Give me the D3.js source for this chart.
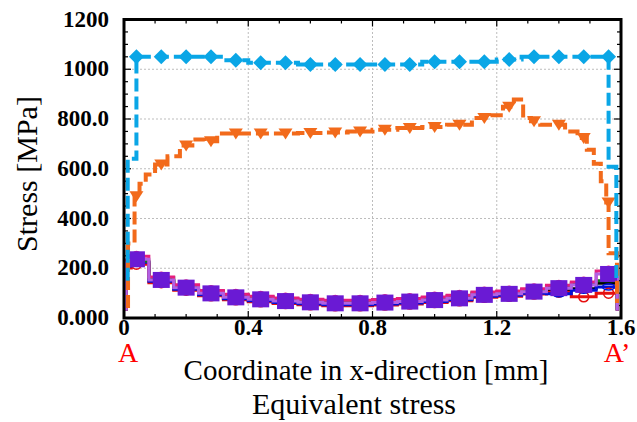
<!DOCTYPE html>
<html>
<head>
<meta charset="utf-8">
<script src="https://cdn.jsdelivr.net/npm/d3@7"></script>
<style>
  body { margin: 0; background: #fff; }
</style>
</head>
<body>
<div id="plot"></div>
<script>
// x positions of the markers (mm)
var xMarks = [0.04, 0.12, 0.20, 0.28, 0.36, 0.44, 0.52, 0.60, 0.68, 0.76,
              0.84, 0.92, 1.00, 1.08, 1.16, 1.24, 1.32, 1.40, 1.48, 1.56];

// upper two series (values at markers)
var blueVals   = [1050, 1050, 1050, 1050, 1036, 1026, 1026, 1019, 1019, 1019,
                  1019, 1019, 1030, 1030, 1030, 1039, 1050, 1050, 1050, 1050];
var orangeVals = [489, 617, 693, 711, 742, 742, 742, 744, 746, 750,
                  757, 764, 768, 777, 804, 849, 791, 777, 724, 464];

// stepped line paths of the upper series [x, stress]
var blueLine = [[0.012, 150], [0.012, 640], [0.04, 640], [0.04, 1050],
  [0.12, 1050], [0.20, 1050], [0.28, 1050], [0.36, 1036], [0.44, 1026], [0.52, 1026],
  [0.60, 1019], [0.68, 1019], [0.76, 1019], [0.84, 1019], [0.92, 1019], [1.00, 1030],
  [1.08, 1030], [1.16, 1030], [1.24, 1039], [1.32, 1050], [1.40, 1050], [1.48, 1050],
  [1.56, 1050], [1.56, 608], [1.585, 608], [1.585, 150]];
var orangeLine = [[0.013, 40], [0.013, 300], [0.034, 300], [0.034, 489], [0.04, 489],
  [0.06, 540], [0.08, 577], [0.12, 617], [0.16, 650], [0.20, 693], [0.24, 718],
  [0.28, 711], [0.32, 742], [0.36, 742], [0.44, 742], [0.52, 742], [0.60, 744],
  [0.68, 746], [0.76, 750], [0.84, 757], [0.92, 764], [1.00, 768], [1.08, 777],
  [1.16, 804], [1.20, 815], [1.24, 849], [1.27, 878], [1.30, 804], [1.32, 791],
  [1.36, 777], [1.40, 777], [1.44, 750], [1.48, 724], [1.50, 676], [1.525, 620],
  [1.545, 550], [1.56, 464], [1.56, 260], [1.587, 260], [1.587, 60]];

// lower group of series (values at markers)
var purpleVals = [236, 153, 122, 99, 83, 75, 68, 63, 59, 59, 62, 66, 72, 79, 93, 97, 106, 120, 133, 177];
var pinkVals   = [248, 165, 134, 111, 95, 87, 80, 75, 71, 71, 74, 78, 84, 91, 105, 109, 118, 132, 145, 189];
var greenVals  = [228, 162, 130, 108, 92, 84, 77, 72, 68, 68, 71, 75, 81, 88, 101, 105, 114, 128, 140, 150];
var blackVals  = [222, 150, 117, 95, 79, 71, 64, 59, 55, 55, 58, 62, 68, 75, 89, 92, 101, 110, 118, 140];
var navyVals   = [224, 148, 116, 93, 77, 69, 62, 57, 53, 53, 56, 60, 66, 73, 87, 91, 100, 97, 112, 125];
var redVals    = [216, 142, 112, 89, 73, 65, 58, 53, 49, 49, 52, 56, 62, 69, 83, 87, 96, 104, 85, 100];
var lowEdgeX = [0.007, 1.588];
var lowEdgeBase = 30;

var yTicks = [0, 200, 400, 600, 800, 1000, 1200];
var yTickLabels = ["0.000", "200.0", "400.0", "600.0", "800.0", "1000", "1200"];
var xTicks = [0, 0.4, 0.8, 1.2, 1.6];
var xTickLabels = ["0", "0.4", "0.8", "1.2", "1.6"];

var W = 637, H = 422;
var margin = {left: 124, right: 16, top: 19.5, bottom: 104};

var svg = d3.select("#plot").append("svg").attr("width", W).attr("height", H)
  .attr("font-family", "Liberation Serif");

var x = d3.scaleLinear().domain([0, 1.6]).range([margin.left, W - margin.right]);
var y = d3.scaleLinear().domain([0, 1200]).range([H - margin.bottom, margin.top]);

// grid
var grid = svg.append("g").attr("stroke", "#bdbdbd").attr("stroke-width", 1).attr("stroke-dasharray", "2,2");
xTicks.slice(1, -1).forEach(function(t) {
  grid.append("line").attr("x1", x(t)).attr("x2", x(t)).attr("y1", y(0)).attr("y2", y(1200));
});
yTicks.slice(1, -1).forEach(function(t) {
  grid.append("line").attr("x1", x(0)).attr("x2", x(1.6)).attr("y1", y(t)).attr("y2", y(t));
});

// ticks (inside)
var ticks = svg.append("g").attr("stroke", "#000").attr("stroke-width", 1.2);
d3.range(0, 1201, 50).forEach(function(v) {
  var len = v % 200 === 0 ? 7 : 4;
  ticks.append("line").attr("x1", x(0)).attr("x2", x(0) + len).attr("y1", y(v)).attr("y2", y(v));
  ticks.append("line").attr("x1", x(1.6)).attr("x2", x(1.6) - len).attr("y1", y(v)).attr("y2", y(v));
});
d3.range(0, 17).forEach(function(i) {
  var v = i / 10, len = i % 4 === 0 ? 7 : 4;
  ticks.append("line").attr("x1", x(v)).attr("x2", x(v)).attr("y1", y(0)).attr("y2", y(0) - len);
  ticks.append("line").attr("x1", x(v)).attr("x2", x(v)).attr("y1", y(1200)).attr("y2", y(1200) + len);
});

var line = d3.line().x(function(d) { return x(d[0]); }).y(function(d) { return y(d[1]); }).curve(d3.curveStep);

function lowLine(vals) {
  var pts = [[lowEdgeX[0], lowEdgeBase], [lowEdgeX[0], vals[0] - 15]];
  vals.forEach(function(v, i) { pts.push([xMarks[i], v]); });
  pts.push([lowEdgeX[1], vals[vals.length - 1]]);
  pts.push([lowEdgeX[1], lowEdgeBase]);
  return pts;
}

// lower group lines
var lowSeries = [
  {vals: blackVals, color: "#000000"},
  {vals: redVals, color: "#e60f0f"},
  {vals: navyVals, color: "#0010d8"},
  {vals: greenVals, color: "#137a22"},
  {vals: pinkVals, color: "#e61e7c"},
  {vals: purpleVals, color: "#b260e4"}
];
lowSeries.forEach(function(s) {
  svg.append("path").attr("d", line(lowLine(s.vals)))
    .attr("fill", "none").attr("stroke", s.color).attr("stroke-width", 3);
});

// hollow circle markers (red, blue)
svg.append("g").selectAll("circle").data(redVals).enter().append("circle")
  .attr("cx", function(d, i) { return x(xMarks[i]); }).attr("cy", function(d) { return y(d); })
  .attr("r", 5).attr("fill", "none").attr("stroke", "#e60f0f").attr("stroke-width", 1.5);
svg.append("g").selectAll("ellipse").data(navyVals).enter().append("ellipse")
  .attr("cx", function(d, i) { return x(xMarks[i]); }).attr("cy", function(d) { return y(d); })
  .attr("rx", 6).attr("ry", 3).attr("fill", "none").attr("stroke", "#0010d8").attr("stroke-width", 1.5);
// pink filled circles
svg.append("g").selectAll("circle").data(pinkVals).enter().append("circle")
  .attr("cx", function(d, i) { return x(xMarks[i]); }).attr("cy", function(d) { return y(d); })
  .attr("r", 5.5).attr("fill", "#e61e7c");
// purple squares
svg.append("g").selectAll("rect").data(purpleVals).enter().append("rect")
  .attr("x", function(d, i) { return x(xMarks[i]) - 8.5; }).attr("y", function(d) { return y(d) - 8; })
  .attr("width", 17).attr("height", 16).attr("fill", "#6a1ad4");

// upper series
svg.append("path").attr("d", line(orangeLine)).attr("fill", "none")
  .attr("stroke", "#f26a1b").attr("stroke-width", 4).attr("stroke-dasharray", "13,5");
svg.append("g").selectAll("path").data(orangeVals).enter().append("path")
  .attr("d", "M-7,-5L7,-5L0,6Z")
  .attr("transform", function(d, i) { return "translate(" + x(xMarks[i]) + "," + y(d) + ")"; })
  .attr("fill", "#f26a1b");

svg.append("path").attr("d", line(blueLine)).attr("fill", "none")
  .attr("stroke", "#0aa6e6").attr("stroke-width", 4).attr("stroke-dasharray", "13,5");
svg.append("g").selectAll("path").data(blueVals).enter().append("path")
  .attr("d", "M0,-7.5L7.5,0L0,7.5L-7.5,0Z")
  .attr("transform", function(d, i) { return "translate(" + x(xMarks[i]) + "," + y(d) + ")"; })
  .attr("fill", "#0aa6e6");

// frame
svg.append("rect").attr("x", x(0)).attr("y", y(1200))
  .attr("width", x(1.6) - x(0)).attr("height", y(0) - y(1200))
  .attr("fill", "none").attr("stroke", "#000").attr("stroke-width", 3);

// tick labels
svg.append("g").selectAll("text").data(yTicks).enter().append("text")
  .attr("x", 109).attr("y", function(d) { return y(d) + 7; })
  .attr("text-anchor", "end").attr("font-size", 23).attr("font-weight", "bold")
  .text(function(d, i) { return yTickLabels[i]; });
svg.append("g").selectAll("text").data(xTicks).enter().append("text")
  .attr("x", function(d) { return x(d); }).attr("y", 335)
  .attr("text-anchor", "middle").attr("font-size", 23).attr("font-weight", "bold")
  .text(function(d, i) { return xTickLabels[i]; });

// axis titles
svg.append("text").attr("transform", "translate(37,174) rotate(-90)")
  .attr("text-anchor", "middle").attr("font-size", 30).text("Stress [MPa]");
svg.append("text").attr("x", 366).attr("y", 380)
  .attr("text-anchor", "middle").attr("font-size", 29).text("Coordinate in x-direction [mm]");
svg.append("text").attr("x", 354).attr("y", 414)
  .attr("text-anchor", "middle").attr("font-size", 30).text("Equivalent stress");

// point labels
svg.append("text").attr("x", x(0) + 4).attr("y", 362)
  .attr("text-anchor", "middle").attr("font-size", 28).attr("fill", "#ff0000").text("A");
svg.append("text").attr("x", x(1.6) - 4).attr("y", 362)
  .attr("text-anchor", "middle").attr("font-size", 28).attr("fill", "#ff0000").text("A’");
</script>
</body>
</html>
